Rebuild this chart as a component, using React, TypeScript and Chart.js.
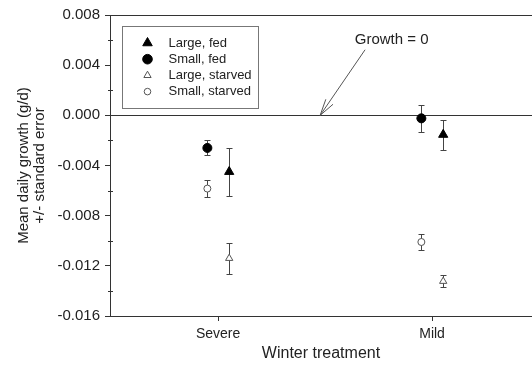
import React, { useEffect, useRef } from 'react';
import { Chart, registerables } from 'chart.js';
Chart.register(...registerables);

const categories = ['Severe', 'Mild'];
const categoryPositions = [1, 2];
const largeFed = [-0.0045, -0.00154];
const largeFedErr = [0.0019, 0.0012];
const smallFed = [-0.0026, -0.00024];
const smallFedErr = [0.0006, 0.00108];
const largeStarved = [-0.0114, -0.01323];
const largeStarvedErr = [0.00124, 0.00046];
const smallStarved = [-0.00584, -0.0101];
const smallStarvedErr = [0.00065, 0.00065];
const yMajorTicks = [-0.016, -0.012, -0.008, -0.004, 0, 0.004, 0.008];
const yMinorTicks = [-0.014, -0.01, -0.006, -0.002, 0.002, 0.006];
const circleOffset = -0.05;
const triangleOffset = 0.052;
const annotationText = 'Growth = 0';
const annotationTextAt = [1.811, 0.00603];
const arrowFrom = [1.687, 0.00523];
const arrowTo = [1.477, 0];

const FONT = '"Liberation Sans", Arial, Helvetica, sans-serif';
const TEXT = '#222';
const AXIS = '#333';

function pts(values: number[], offset: number) {
  return categoryPositions.map((c, i) => ({ x: c + offset, y: values[i] }));
}

function drawMarker(ctx: CanvasRenderingContext2D, style: string, x: number, y: number, r: number, fill: string, stroke: string, lw: number) {
  ctx.save();
  ctx.beginPath();
  if (style === 'triangle') {
    let rad = 0;
    ctx.moveTo(x + Math.sin(rad) * r, y - Math.cos(rad) * r);
    rad += (2 * Math.PI) / 3;
    ctx.lineTo(x + Math.sin(rad) * r, y - Math.cos(rad) * r);
    rad += (2 * Math.PI) / 3;
    ctx.lineTo(x + Math.sin(rad) * r, y - Math.cos(rad) * r);
    ctx.closePath();
  } else {
    ctx.arc(x, y, r, 0, Math.PI * 2);
  }
  ctx.fillStyle = fill;
  ctx.fill();
  ctx.lineWidth = lw;
  ctx.strokeStyle = stroke;
  ctx.stroke();
  ctx.restore();
}

const decorPlugin = {
  id: 'decor',
  beforeDatasetsDraw(chart: any) {
    const { ctx, chartArea, scales } = chart;
    const x = scales.x;
    const y = scales.y;
    ctx.save();
    ctx.strokeStyle = AXIS;
    ctx.lineWidth = 1;
    ctx.beginPath();
    ctx.moveTo(chartArea.left, Math.round(chartArea.top) + 0.5);
    ctx.lineTo(chartArea.right, Math.round(chartArea.top) + 0.5);
    ctx.stroke();
    const y0 = Math.round(y.getPixelForValue(0)) + 0.5;
    ctx.beginPath();
    ctx.moveTo(chartArea.left, y0);
    ctx.lineTo(chartArea.right, y0);
    ctx.stroke();
    yMinorTicks.forEach((v) => {
      const py = Math.round(y.getPixelForValue(v)) + 0.5;
      ctx.beginPath();
      ctx.moveTo(chartArea.left - 2, py);
      ctx.lineTo(chartArea.left + 3, py);
      ctx.stroke();
    });
    ctx.strokeStyle = '#444';
    chart.data.datasets.forEach((ds: any) => {
      ds.data.forEach((p: any, i: number) => {
        const e = ds.errors[i];
        const px = Math.round(x.getPixelForValue(p.x)) + 0.5;
        const top = Math.round(y.getPixelForValue(p.y + e)) + 0.5;
        const bot = Math.round(y.getPixelForValue(p.y - e)) + 0.5;
        ctx.beginPath();
        ctx.moveTo(px, top);
        ctx.lineTo(px, bot);
        ctx.moveTo(px - 3, top);
        ctx.lineTo(px + 3, top);
        ctx.moveTo(px - 3, bot);
        ctx.lineTo(px + 3, bot);
        ctx.stroke();
      });
    });
    const ax0 = x.getPixelForValue(arrowFrom[0]);
    const ay0 = y.getPixelForValue(arrowFrom[1]);
    const ax1 = x.getPixelForValue(arrowTo[0]);
    const ay1 = y.getPixelForValue(arrowTo[1]);
    ctx.strokeStyle = '#555';
    ctx.beginPath();
    ctx.moveTo(ax0, ay0);
    ctx.lineTo(ax1, ay1);
    const ang = Math.atan2(ay0 - ay1, ax0 - ax1);
    const hl = 17;
    const spread = 0.26;
    ctx.moveTo(ax1 + Math.cos(ang - spread) * hl, ay1 + Math.sin(ang - spread) * hl);
    ctx.lineTo(ax1, ay1);
    ctx.lineTo(ax1 + Math.cos(ang + spread) * hl, ay1 + Math.sin(ang + spread) * hl);
    ctx.stroke();
    ctx.fillStyle = TEXT;
    ctx.font = `15px ${FONT}`;
    ctx.textAlign = 'center';
    ctx.textBaseline = 'middle';
    ctx.fillText(annotationText, x.getPixelForValue(annotationTextAt[0]), y.getPixelForValue(annotationTextAt[1]));
    ctx.restore();
  },
  afterDraw(chart: any) {
    const { ctx, chartArea } = chart;
    const left = Math.round(chartArea.left + 12) + 0.5;
    const top = Math.round(chartArea.top + 11) + 0.5;
    const w = 136;
    const h = 82;
    ctx.save();
    ctx.fillStyle = '#fff';
    ctx.fillRect(left, top, w, h);
    ctx.strokeStyle = '#777';
    ctx.lineWidth = 1;
    ctx.strokeRect(left, top, w, h);
    ctx.font = `13px ${FONT}`;
    ctx.textAlign = 'left';
    ctx.textBaseline = 'middle';
    chart.data.datasets.forEach((ds: any, i: number) => {
      const ry = top + 16.5 + i * 16.2;
      const filled = ds.backgroundColor !== '#ffffff';
      const r = ds.pointStyle === 'triangle' ? (filled ? 5.5 : 4.2) : (filled ? 4.8 : 3.3);
      drawMarker(ctx, ds.pointStyle, left + 25, ry, r, ds.backgroundColor, ds.borderColor, ds.borderWidth);
      ctx.fillStyle = TEXT;
      ctx.fillText(ds.label, left + 46, ry);
    });
    ctx.restore();
  },
};

export default function App() {
  const ref = useRef<HTMLCanvasElement>(null);
  useEffect(() => {
    if (!ref.current) return;
    const chart = new Chart(ref.current, {
      type: 'scatter',
      data: {
        datasets: [
          { label: 'Large, fed', data: pts(largeFed, triangleOffset), errors: largeFedErr, pointStyle: 'triangle', pointRadius: 5.3, backgroundColor: '#000000', borderColor: '#000000', borderWidth: 1 } as any,
          { label: 'Small, fed', data: pts(smallFed, circleOffset), errors: smallFedErr, pointStyle: 'circle', pointRadius: 4.5, backgroundColor: '#000000', borderColor: '#000000', borderWidth: 1 } as any,
          { label: 'Large, starved', data: pts(largeStarved, triangleOffset), errors: largeStarvedErr, pointStyle: 'triangle', pointRadius: 4.2, backgroundColor: '#ffffff', borderColor: '#555555', borderWidth: 1 } as any,
          { label: 'Small, starved', data: pts(smallStarved, circleOffset), errors: smallStarvedErr, pointStyle: 'circle', pointRadius: 3.5, backgroundColor: '#ffffff', borderColor: '#555555', borderWidth: 1 } as any,
        ],
      },
      options: {
        animation: false,
        responsive: false,
        layout: { autoPadding: false, padding: { top: 15, left: 0, right: 0, bottom: 0 } },
        plugins: { legend: { display: false }, tooltip: { enabled: false } },
        scales: {
          x: {
            type: 'linear',
            min: 0.495,
            max: 2.467,
            afterBuildTicks: (scale: any) => {
              scale.ticks = categoryPositions.map((v) => ({ value: v }));
            },
            afterFit: (scale: any) => {
              scale.height = 54;
              scale.paddingRight = 0;
              scale.paddingLeft = 0;
            },
            ticks: {
              callback: (v: any) => {
                const i = categoryPositions.indexOf(Number(v));
                return i >= 0 ? categories[i] : '';
              },
              font: { family: FONT, size: 14 },
              color: TEXT,
              padding: 5,
              maxRotation: 0,
            },
            grid: { drawOnChartArea: false, tickLength: 5, color: AXIS },
            border: { color: AXIS },
            title: {
              display: true,
              text: 'Winter treatment',
              font: { family: FONT, size: 16 },
              color: TEXT,
              padding: { top: 0, bottom: 7 },
            },
          },
          y: {
            min: -0.016,
            max: 0.008,
            afterBuildTicks: (scale: any) => {
              scale.ticks = yMajorTicks.map((v) => ({ value: v }));
            },
            afterFit: (scale: any) => {
              scale.width = 110;
            },
            ticks: {
              callback: (v: any) => Number(v).toFixed(3),
              font: { family: FONT, size: 15 },
              color: TEXT,
              padding: 5,
            },
            grid: { drawOnChartArea: false, tickLength: 5, color: AXIS },
            border: { color: AXIS },
            title: {
              display: true,
              text: ['Mean daily growth (g/d)', '+/- standard error'],
              font: { family: FONT, size: 15, lineHeight: 1.07 },
              color: TEXT,
              padding: { top: 16, bottom: 0 },
            },
          },
        },
      },
      plugins: [decorPlugin],
    } as any);
    return () => chart.destroy();
  }, []);
  return (
    <div style={{ position: 'absolute', left: 0, top: 0, width: 532, height: 370 }}>
      <canvas ref={ref} width={532} height={370} style={{ display: 'block', width: 532, height: 370 }} />
    </div>
  );
}
